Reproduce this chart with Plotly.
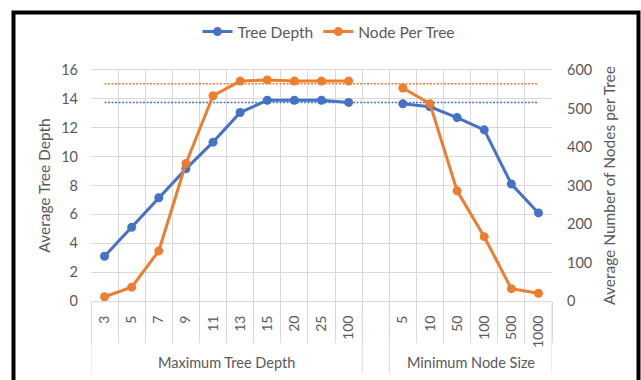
import plotly.graph_objects as go

# Category labels for the two parameter sweeps
max_depth_labels = ["3", "5", "7", "9", "11", "13", "15", "20", "25", "100"]
min_node_labels = ["5", "10", "50", "100", "500", "1000"]
group_labels = ["Maximum Tree Depth", "Minimum Node Size"]

# Average tree depth (left axis)
depth_by_max_depth = [3.1, 5.1, 7.15, 9.15, 11.0, 13.05, 13.9, 13.9, 13.9, 13.75]
depth_by_min_node = [13.65, 13.45, 12.7, 11.85, 8.1, 6.1]

# Average number of nodes per tree (right axis)
nodes_by_max_depth = [11, 36, 130, 357, 533, 571, 574, 571, 571, 571]
nodes_by_min_node = [553, 512, 286, 167, 32, 20]

# Reference levels (dotted lines)
depth_ref = 13.75
nodes_ref = 564

BLUE = "#4472C4"
ORANGE = "#ED7D31"
GRID = "#D9D9D9"
TEXT = "#595959"
FONT = "Lato"

W, H = 641, 380
L, R, T, B = 91, 89, 66, 79
PW, PH = W - L - R, H - T - B


def px_x(px):
    return (px - L) / PW


def px_y(py):
    return (H - B - py) / PH


# x positions: first group, one empty slot, second group
n_a, n_b = len(max_depth_labels), len(min_node_labels)
pos_a = list(range(n_a))
pos_b = list(range(n_a + 1, n_a + 1 + n_b))
x_all = list(range(n_a + 1 + n_b))
tick_pos = pos_a + pos_b
tick_text = max_depth_labels + min_node_labels

depth_y = depth_by_max_depth + [None] + depth_by_min_node
nodes_y = nodes_by_max_depth + [None] + nodes_by_min_node

fig = go.Figure()

fig.add_trace(go.Scatter(
    x=x_all, y=[nodes_ref] * len(x_all), yaxis="y2", mode="lines",
    line=dict(color=ORANGE, width=1.5, dash="2px,1.5px"),
    showlegend=False, hoverinfo="skip"))
fig.add_trace(go.Scatter(
    x=x_all, y=[depth_ref] * len(x_all), mode="lines",
    line=dict(color=BLUE, width=1.5, dash="2px,1.5px"),
    showlegend=False, hoverinfo="skip"))

fig.add_trace(go.Scatter(
    x=x_all, y=depth_y, name="Tree Depth", mode="lines+markers",
    line=dict(color=BLUE, width=3), marker=dict(color=BLUE, size=9),
    connectgaps=False, cliponaxis=False))
fig.add_trace(go.Scatter(
    x=x_all, y=nodes_y, name="Node Per Tree", yaxis="y2", mode="lines+markers",
    line=dict(color=ORANGE, width=3), marker=dict(color=ORANGE, size=9),
    connectgaps=False, cliponaxis=False))

# separators between groups reaching down past the group labels
group_edges = [-0.5, n_a - 0.5, n_a + 0.5, n_a + n_b + 0.5]
shapes = [dict(type="line", xref="x", yref="paper", x0=e, x1=e,
               y0=0, y1=px_y(375), line=dict(color=GRID, width=1))
          for e in group_edges]
# chart frame
shapes.append(dict(type="rect", xref="paper", yref="paper",
                   x0=px_x(13.5), x1=px_x(638.5), y0=px_y(7.5), y1=px_y(395),
                   line=dict(color="black", width=4)))

annotations = [
    dict(x=sum(pos_a) / n_a, y=px_y(364), xref="x", yref="paper",
         text=group_labels[0], showarrow=False, yanchor="middle",
         font=dict(family=FONT, size=14.5, color=TEXT)),
    dict(x=sum(pos_b) / n_b, y=px_y(364), xref="x", yref="paper",
         text=group_labels[1], showarrow=False, yanchor="middle",
         font=dict(family=FONT, size=14.5, color=TEXT)),
]

fig.update_layout(
    width=W, height=H,
    margin=dict(l=L, r=R, t=T, b=B),
    paper_bgcolor="white", plot_bgcolor="white",
    font=dict(family=FONT, size=14, color=TEXT),
    shapes=shapes, annotations=annotations,
    legend=dict(orientation="h", xref="container", yref="container",
                x=329 / W, xanchor="center", y=1 - 32 / H, yanchor="middle",
                font=dict(family=FONT, size=15.5, color=TEXT),
                itemwidth=30, bgcolor="rgba(0,0,0,0)"),
    xaxis=dict(
        range=[-0.5, len(x_all) - 0.5],
        tickmode="array", tickvals=tick_pos, ticktext=tick_text,
        tickangle=-90, ticks="", showgrid=False, zeroline=False,
        showline=True, linecolor=GRID, linewidth=1, mirror=True,
        ticklabelstandoff=8,
        tickfont=dict(family=FONT, size=14, color=TEXT),
        minor=dict(tickmode="array",
                   tickvals=[p - 0.5 for p in x_all] + [x_all[-1] + 0.5],
                   showgrid=True, gridcolor=GRID, gridwidth=1,
                   ticks="outside", ticklen=41, tickcolor=GRID, tickwidth=1),
    ),
    yaxis=dict(
        range=[0, 16], dtick=2, tick0=0, showgrid=True, gridcolor=GRID,
        zeroline=False, ticks="", ticklabelstandoff=12,
        title=dict(text="Average Tree Depth", standoff=6,
                   font=dict(family=FONT, size=15.5, color=TEXT)),
        tickfont=dict(family=FONT, size=14.5, color=TEXT),
    ),
    yaxis2=dict(
        range=[0, 600], dtick=100, tick0=0, overlaying="y", side="right",
        showgrid=False, zeroline=False, ticks="", ticklabelstandoff=14,
        title=dict(text="Average Number of Nodes per Tree", standoff=12,
                   font=dict(family=FONT, size=15.5, color=TEXT)),
        tickfont=dict(family=FONT, size=14.5, color=TEXT),
    ),
)

fig.write_html("out.html")
